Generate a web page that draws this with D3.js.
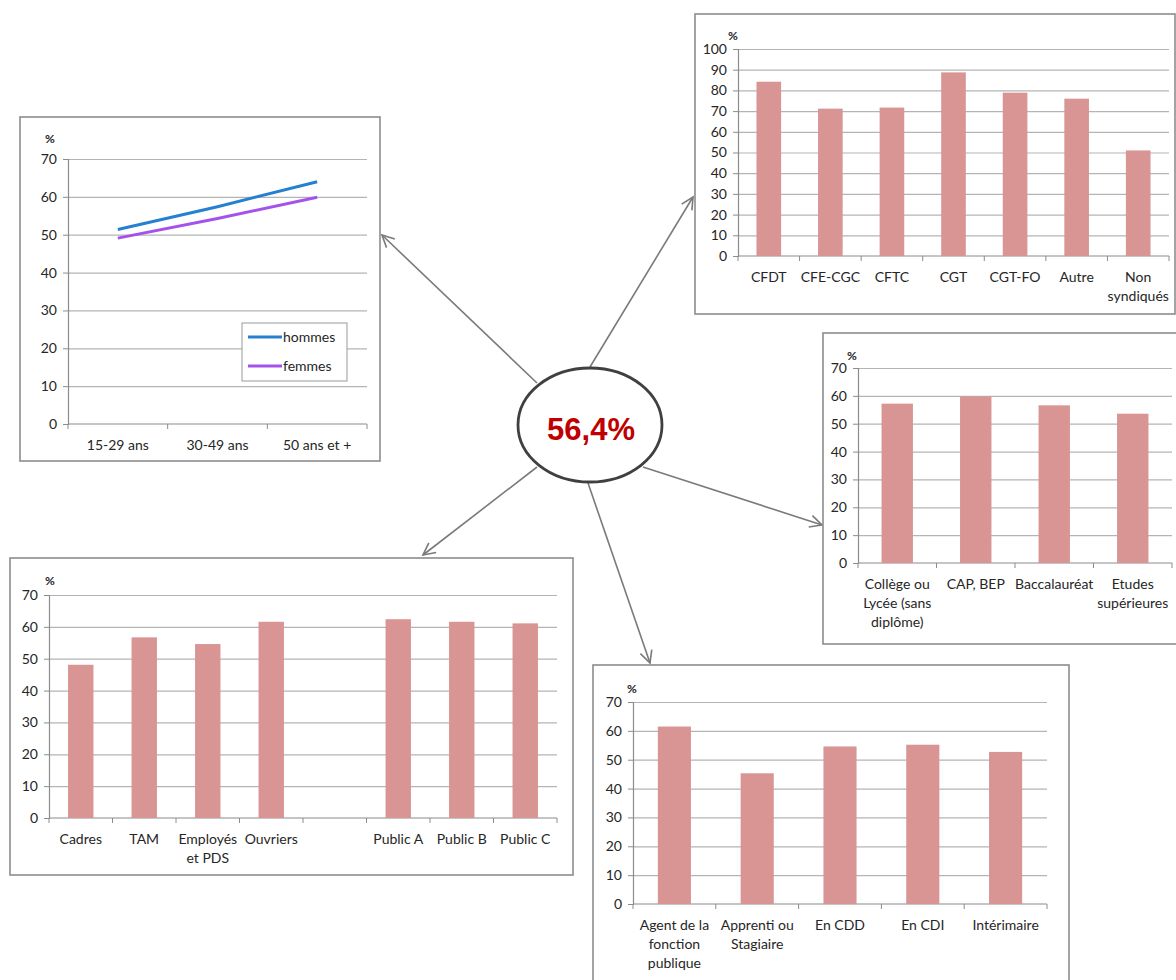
<!DOCTYPE html>
<html><head><meta charset="utf-8">
<script src="https://cdn.jsdelivr.net/npm/d3@7"></script>
<style>body{margin:0;background:#fff}svg{display:block}text{font-family:Lato,'Open Sans',sans-serif}</style>
</head><body><svg id="c" width="1176" height="980"></svg>
<script>
// ---- data ----
const ageCats = ["15-29 ans", "30-49 ans", "50 ans et +"];
const hommes = [51.4, 57.4, 64.0];
const femmes = [49.1, 54.3, 59.9];
const seriesNames = ["hommes", "femmes"];
const syndCats = ["CFDT", "CFE-CGC", "CFTC", "CGT", "CGT-FO", "Autre", "Non\nsyndiqués"];
const syndVals = [84.2, 71.2, 71.7, 88.7, 78.9, 76.0, 51.0];
const diplCats = ["Collège ou\nLycée (sans\ndiplôme)", "CAP, BEP", "Baccalauréat", "Etudes\nsupérieures"];
const diplVals = [57.2, 59.8, 56.6, 53.6];
const cspCats = ["Cadres", "TAM", "Employés\net PDS", "Ouvriers", "", "Public A", "Public B", "Public C"];
const cspVals = [48.1, 56.7, 54.6, 61.6, null, 62.4, 61.6, 61.1];
const statCats = ["Agent de la\nfonction\npublique", "Apprenti ou\nStagiaire", "En CDD", "En CDI", "Intérimaire"];
const statVals = [61.5, 45.3, 54.6, 55.2, 52.7];
const ticks70 = [0, 10, 20, 30, 40, 50, 60, 70];
const ticks100 = [0, 10, 20, 30, 40, 50, 60, 70, 80, 90, 100];
const unitLabel = "%";
const centralLabel = "56,4%";

// ---- style ----
const BAR = "#d99594", GRID = "#b4b4b4", AXIS = "#8c8c8c", BOX = "#8c8c8c", TXT = "#262626";
const FS = 14;
const svg = d3.select("#c");

// ---- arrows (drawn first, under boxes) ----
const defs = svg.append("defs");
defs.append("marker").attr("id", "ah").attr("markerUnits", "userSpaceOnUse")
  .attr("markerWidth", 30).attr("markerHeight", 30).attr("refX", 15).attr("refY", 15)
  .attr("orient", "auto").attr("viewBox", "0 0 30 30")
  .append("path").attr("d", "M3,9 L15,15 L3,21").attr("fill", "none")
  .attr("stroke", "#7a7a7a").attr("stroke-width", 1.6);
const arrows = [
  [537, 383, 382, 235], [590, 367, 693, 197], [537, 467, 423, 555],
  [643, 467, 822, 525], [588, 483, 650, 663]
];
svg.append("g").selectAll("line").data(arrows).join("line")
  .attr("x1", d => d[0]).attr("y1", d => d[1]).attr("x2", d => d[2]).attr("y2", d => d[3])
  .attr("stroke", "#7a7a7a").attr("stroke-width", 1.6).attr("marker-end", "url(#ah)");

function frame(b) {
  svg.append("rect").attr("x", b.x).attr("y", b.y).attr("width", b.w).attr("height", b.h)
    .attr("fill", "#fff").attr("stroke", BOX).attr("stroke-width", 1.6);
}

function axes(g, p, ticks, max, x) {
  const y = d3.scaleLinear().domain([0, max]).range([p.y0, p.y1]);
  g.append("g").attr("transform", `translate(${p.x0},0)`)
    .call(d3.axisLeft(y).tickValues(ticks.filter(t => t > 0)).tickSize(-(p.x1 - p.x0)).tickFormat(""))
    .call(s => s.select(".domain").remove())
    .call(s => s.selectAll("line").attr("stroke", GRID).attr("stroke-width", 1.2));
  g.append("g").attr("transform", `translate(${p.x0},0)`)
    .call(d3.axisLeft(y).tickValues(ticks).tickSize(5).tickPadding(6))
    .call(s => s.select(".domain").attr("stroke", AXIS).attr("stroke-width", 1.2))
    .call(s => s.selectAll("line").attr("stroke", AXIS))
    .call(s => s.selectAll("text").attr("fill", TXT).attr("font-size", FS).style("font-family", "Lato"));
  const xb = x.copy().paddingInner(0).paddingOuter(0);
  const bounds = xb.domain().map(d => xb(d)).concat([p.x1]);
  g.append("line").attr("x1", p.x0).attr("x2", p.x1).attr("y1", p.y0).attr("y2", p.y0)
    .attr("stroke", AXIS).attr("stroke-width", 1.2);
  g.append("g").selectAll("line").data(bounds).join("line")
    .attr("x1", d => d).attr("x2", d => d).attr("y1", p.y0).attr("y2", p.y0 + 5)
    .attr("stroke", AXIS);
  return y;
}

function catLabels(g, x, p, labels) {
  const t = g.append("g").selectAll("text").data(x.domain()).join("text")
    .attr("x", d => x(d) + x.bandwidth() / 2).attr("y", p.y0 + 21)
    .attr("text-anchor", "middle").attr("fill", TXT).attr("font-size", FS);
  t.each(function (d) {
    const lines = labels[d].split("\n");
    d3.select(this).selectAll("tspan").data(lines).join("tspan")
      .attr("x", x(d) + x.bandwidth() / 2).attr("dy", (l, i) => i === 0 ? "0.35em" : 19)
      .text(l => l);
  });
}

function unit(g, px, py) {
  g.append("text").attr("x", px).attr("y", py).attr("font-size", 12).attr("font-weight", "bold")
    .attr("fill", TXT).attr("text-anchor", "middle").attr("dominant-baseline", "central").text(unitLabel);
}

function barChart(box, p, cats, vals, ticks, max, u) {
  frame(box);
  const g = svg.append("g");
  const idx = cats.map((c, i) => i);
  const x = d3.scaleBand().domain(idx).range([p.x0, p.x1]).paddingInner(0.6).paddingOuter(0.3);
  const y = axes(g, p, ticks, max, x);
  g.append("g").selectAll("rect").data(idx.filter(i => vals[i] != null)).join("rect")
    .attr("x", i => x(i)).attr("width", x.bandwidth())
    .attr("y", i => y(vals[i])).attr("height", i => y(0) - y(vals[i])).attr("fill", BAR);
  const xl = x.copy().paddingInner(0).paddingOuter(0);
  catLabels(g, xl, p, cats);
  unit(g, u[0], u[1]);
}

// ---- line chart (age) ----
(function () {
  const box = { x: 20, y: 117, w: 360, h: 344 };
  const p = { x0: 68, x1: 367, y0: 424, y1: 159 };
  frame(box);
  const g = svg.append("g");
  const idx = ageCats.map((c, i) => i);
  const x = d3.scaleBand().domain(idx).range([p.x0, p.x1]);
  const y = axes(g, p, ticks70, 70, x);
  const line = d3.line().x((v, i) => x(i) + x.bandwidth() / 2).y(v => y(v));
  const series = [hommes, femmes], cols = ["#2580d2", "#a552ec"];
  series.forEach((s, k) => g.append("path").attr("d", line(s)).attr("fill", "none")
    .attr("stroke", cols[k]).attr("stroke-width", 3));
  catLabels(g, x, p, ageCats);
  unit(g, 50, 138);
  const lg = g.append("g");
  lg.append("rect").attr("x", 242).attr("y", 323).attr("width", 105).attr("height", 58)
    .attr("fill", "#fff").attr("stroke", "#999").attr("stroke-width", 1);
  seriesNames.forEach((n, k) => {
    const yy = 337 + k * 29;
    lg.append("line").attr("x1", 248).attr("x2", 282).attr("y1", yy).attr("y2", yy)
      .attr("stroke", cols[k]).attr("stroke-width", 3);
    lg.append("text").attr("x", 283).attr("y", yy).attr("dy", "0.35em").attr("font-size", FS)
      .attr("fill", TXT).text(n);
  });
})();

// ---- bar charts ----
barChart({ x: 695, y: 14, w: 480, h: 300 }, { x0: 738, x1: 1169, y0: 256, y1: 49 },
  syndCats, syndVals, ticks100, 100, [733, 35]);
barChart({ x: 823, y: 333, w: 370, h: 311 }, { x0: 858, x1: 1172, y0: 563, y1: 368 },
  diplCats, diplVals, ticks70, 70, [852, 355]);
barChart({ x: 10, y: 558, w: 563, h: 317 }, { x0: 49, x1: 557, y0: 818, y1: 595 },
  cspCats, cspVals, ticks70, 70, [50, 580]);
barChart({ x: 593, y: 665, w: 476, h: 340 }, { x0: 633, x1: 1047, y0: 904, y1: 702 },
  statCats, statVals, ticks70, 70, [632, 688]);

// ---- central ellipse ----
svg.append("ellipse").attr("cx", 590).attr("cy", 425).attr("rx", 72).attr("ry", 57)
  .attr("fill", "#fff").attr("stroke", "#404040").attr("stroke-width", 2.8);
svg.append("text").attr("x", 591).attr("y", 440).attr("text-anchor", "middle")
  .attr("font-size", 31).attr("font-weight", "bold").attr("fill", "#c00000")
  .style("font-family", "'Liberation Sans',Arial,sans-serif").text(centralLabel);
</script></body></html>
